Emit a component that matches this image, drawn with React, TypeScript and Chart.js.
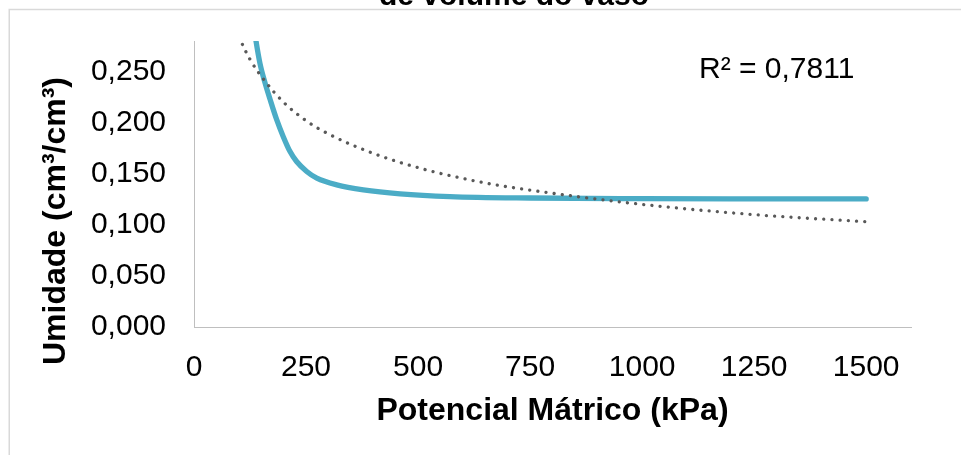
import React, { useEffect, useRef } from 'react';
import { Chart, registerables } from 'chart.js';

Chart.register(...registerables);

// Observed moisture curve (kPa -> cm3/cm3)
const curveX = [120, 138, 147, 158.5, 170, 184.5, 199, 214, 229, 251.5, 274, 318.5, 378, 460, 571, 750, 1000, 1250, 1500];
const curveY = [0.335, 0.281, 0.2585, 0.239, 0.2225, 0.203, 0.1866, 0.172, 0.162, 0.1523, 0.1458, 0.1392, 0.1343, 0.1304, 0.1277, 0.1263, 0.1257, 0.1255, 0.1254];

// Power trendline (dotted)
const trendX = [60, 80, 101, 125, 158, 200, 250, 300, 400, 500, 650, 750, 1000, 1250, 1500];
const trendY = [0.346, 0.311, 0.284, 0.262, 0.241, 0.220, 0.202, 0.189, 0.170, 0.156, 0.141, 0.134, 0.120, 0.110, 0.103];

const xTicks = [0, 250, 500, 750, 1000, 1250, 1500];
const xTickLabels = ['0', '250', '500', '750', '1000', '1250', '1500'];
const yTicks = [0, 0.05, 0.1, 0.15, 0.2, 0.25];
const yTickLabels = ['0,000', '0,050', '0,100', '0,150', '0,200', '0,250'];

const chartTitle = 'de volume do vaso';
const xTitle = 'Potencial Mátrico (kPa)';
const yTitle = 'Umidade (cm³/cm³)';
const r2Label = 'R² = 0,7811';

const FONT = '"Liberation Sans", Arial, sans-serif';

export default function App() {
  const ref = useRef<HTMLCanvasElement>(null);

  useEffect(() => {
    const overlay = {
      id: 'overlay',
      beforeDraw(chart: any) {
        const ctx = chart.ctx;
        ctx.save();
        ctx.fillStyle = '#ffffff';
        ctx.fillRect(0, 0, chart.width, chart.height);
        ctx.strokeStyle = '#D9D9D9';
        ctx.lineWidth = 1.5;
        ctx.strokeRect(9.25, 9.5, 1200, 1000);
        ctx.restore();
      },
      afterDraw(chart: any) {
        const ctx = chart.ctx;
        ctx.save();
        ctx.fillStyle = '#000000';
        // chart title (only lower part visible)
        ctx.font = `bold 30px ${FONT}`;
        ctx.textAlign = 'center';
        ctx.textBaseline = 'alphabetic';
        ctx.fillText(chartTitle, 514, 4.5);
        // R² label
        ctx.font = `30px ${FONT}`;
        ctx.textAlign = 'left';
        ctx.fillText(r2Label, 699, 78.3);
        // y-axis title
        ctx.font = `bold 32px ${FONT}`;
        ctx.translate(56, 221);
        ctx.rotate(-Math.PI / 2);
        ctx.textAlign = 'center';
        ctx.textBaseline = 'middle';
        ctx.fillText(yTitle, 0, 0);
        ctx.restore();
      },
    };

    const chart = new Chart(ref.current as HTMLCanvasElement, {
      type: 'scatter',
      data: {
        datasets: [
          {
            label: 'Potência',
            data: trendX.map((x, i) => ({ x, y: trendY[i] })),
            showLine: true,
            borderColor: '#595959',
            borderWidth: 3.3,
            borderDash: [0.01, 8.2],
            borderCapStyle: 'round',
            pointRadius: 0,
            cubicInterpolationMode: 'monotone',
            order: 0,
            clip: 0,
          } as any,
          {
            label: 'Umidade',
            data: curveX.map((x, i) => ({ x, y: curveY[i] })),
            showLine: true,
            borderColor: '#4BACC6',
            borderWidth: 5.3,
            borderCapStyle: 'round',
            borderJoinStyle: 'round',
            pointRadius: 0,
            cubicInterpolationMode: 'monotone',
            order: 1,
            clip: 0,
          } as any,
        ],
      },
      options: {
        responsive: false,
        animation: false,
        devicePixelRatio: 1,
        layout: { padding: { left: 0, top: 41, right: 50, bottom: 0 } },
        plugins: {
          legend: { display: false },
          tooltip: { enabled: false },
          title: { display: false },
        },
        scales: {
          x: {
            type: 'linear',
            min: 0,
            max: 1600,
            grid: { display: false, drawTicks: false },
            border: { display: true, color: '#BFBFBF', width: 1 },
            afterBuildTicks: (s: any) => {
              s.ticks = xTicks.map((v) => ({ value: v }));
            },
            afterFit: (s: any) => {
              s.height = 128;
              s.paddingLeft = 0;
              s.paddingRight = 0;
            },
            ticks: {
              autoSkip: false,
              maxRotation: 0,
              padding: 23,
              color: '#000000',
              font: { family: FONT, size: 30 },
              callback: (_v: any, i: number) => xTickLabels[i] ?? '',
            },
            title: {
              display: true,
              text: xTitle,
              color: '#000000',
              font: { family: FONT, size: 32, weight: 'bold' },
              padding: { top: 0, bottom: 25 },
            },
          },
          y: {
            type: 'linear',
            min: 0,
            max: 0.28,
            grid: { display: false, drawTicks: false },
            border: { display: true, color: '#BFBFBF', width: 1 },
            afterBuildTicks: (s: any) => {
              s.ticks = yTicks.map((v) => ({ value: v }));
            },
            afterFit: (s: any) => {
              s.width = 194;
              s.paddingTop = 0;
              s.paddingBottom = 0;
            },
            ticks: {
              autoSkip: false,
              padding: 28,
              color: '#000000',
              font: { family: FONT, size: 30 },
              callback: (_v: any, i: number) => yTickLabels[i] ?? '',
            },
          },
        },
      } as any,
      plugins: [overlay],
    });

    return () => chart.destroy();
  }, []);

  return (
    <canvas
      ref={ref}
      width={961}
      height={455}
      style={{ position: 'absolute', left: 0, top: 0, display: 'block', width: 961, height: 455 }}
    />
  );
}
